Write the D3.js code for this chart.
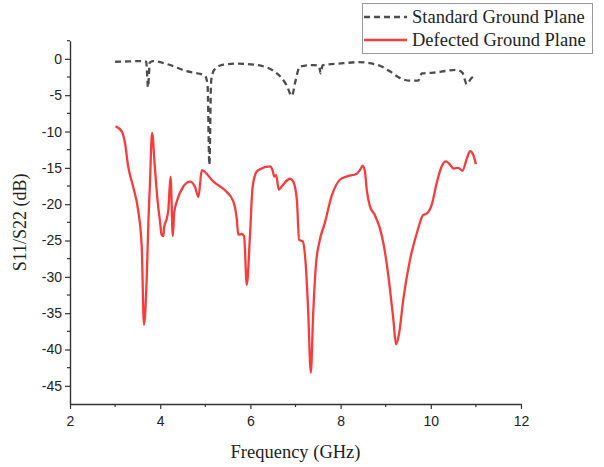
<!DOCTYPE html>
<html>
<head>
<meta charset="utf-8">
<script src="https://cdn.jsdelivr.net/npm/d3@7"></script>
<style>
  body { margin: 0; background: #fff; }
  svg { display: block; }
</style>
</head>
<body>
<main></main>
<script>
// data
let xTicks = [2, 4, 6, 8, 10, 12];
let yTicks = [0, -5, -10, -15, -20, -25, -30, -35, -40, -45];

let stdFreq = [3.0, 3.3, 3.62, 3.69, 3.73, 3.77, 3.84, 4.14, 4.59, 4.99, 5.05, 5.09, 5.13, 5.2, 5.4, 5.7, 6.14, 6.58, 6.8, 6.92, 6.99, 7.1, 7.4, 7.52, 7.56, 7.6, 7.69, 8.06, 8.39, 8.65, 8.87, 9.1, 9.32, 9.54, 9.72, 9.8, 10.06, 10.35, 10.57, 10.7, 10.8, 10.88, 11.0];
let stdS = [-0.4, -0.35, -0.3, -0.4, -3.9, -0.5, -0.3, -0.7, -1.7, -2.3, -3.5, -14.6, -3.0, -1.5, -0.8, -0.65, -0.85, -1.95, -3.6, -5.1, -3.3, -1.05, -0.85, -1.0, -2.0, -0.9, -0.8, -0.6, -0.45, -0.6, -0.95, -1.75, -2.65, -3.0, -3.0, -2.0, -1.9, -1.65, -1.5, -1.9, -3.5, -2.8, -2.2];

let dgsFreq = [3.01, 3.15, 3.22, 3.29, 3.4, 3.51, 3.59, 3.64, 3.7, 3.74, 3.77, 3.82, 3.88, 3.94, 4.0, 4.03, 4.07, 4.09, 4.14, 4.18, 4.23, 4.28, 4.31, 4.37, 4.51, 4.66, 4.77, 4.85, 4.92, 5.18, 5.47, 5.62, 5.7, 5.73, 5.81, 5.86, 5.92, 5.99, 6.05, 6.14, 6.21, 6.43, 6.49, 6.53, 6.57, 6.63, 6.69, 6.88, 6.95, 7.03, 7.08, 7.16, 7.23, 7.28, 7.34, 7.39, 7.45, 7.54, 7.65, 7.8, 7.99, 8.13, 8.36, 8.43, 8.49, 8.54, 8.58, 8.65, 8.76, 8.87, 8.95, 9.06, 9.17, 9.23, 9.3, 9.39, 9.54, 9.69, 9.83, 9.91, 10.02, 10.13, 10.24, 10.34, 10.43, 10.51, 10.61, 10.7, 10.8, 10.87, 10.94, 11.0];
let dgsS = [-9.3, -10.0, -11.6, -14.8, -17.6, -20.8, -25.8, -36.6, -30.4, -22.1, -17.6, -10.2, -14.8, -19.4, -22.6, -24.2, -24.4, -23.1, -22.1, -20.8, -16.2, -24.4, -21.2, -19.6, -17.6, -16.9, -17.6, -19.0, -15.3, -16.9, -18.3, -19.6, -22.1, -24.2, -24.1, -24.4, -31.1, -24.4, -17.6, -15.5, -15.2, -14.8, -15.3, -16.2, -16.0, -18.0, -17.6, -16.5, -16.9, -19.4, -24.9, -25.1, -28.6, -34.5, -43.2, -35.4, -28.6, -24.9, -22.6, -18.9, -16.6, -16.2, -15.8, -15.3, -14.7, -15.5, -18.0, -20.3, -21.5, -23.3, -25.4, -29.9, -35.9, -39.3, -37.7, -33.1, -27.6, -24.0, -21.5, -21.3, -20.1, -17.1, -14.8, -14.1, -14.6, -15.1, -15.0, -15.4, -13.7, -12.7, -13.2, -14.5];

let width = 604, height = 467;

let svg = d3.select('main')
    .append('svg')
    .attr('width', width)
    .attr('height', height);

let x = d3.scaleLinear().domain([2, 12]).range([70, 521]);
let y = d3.scaleLinear().domain([-47.5, 2.5]).range([404, 40.7]);

// minor ticks
let xMinor = d3.range(3, 12, 2);
let yMinor = d3.range(2.5, -47.5, -5);

svg.append('g')
    .selectAll('line')
    .data(xMinor)
    .join('line')
    .attr('x1', d => x(d)).attr('x2', d => x(d))
    .attr('y1', 404).attr('y2', 407)
    .attr('stroke', '#333').attr('stroke-width', 1.2);

svg.append('g')
    .selectAll('line')
    .data(yMinor)
    .join('line')
    .attr('x1', 67).attr('x2', 70)
    .attr('y1', d => y(d)).attr('y2', d => y(d))
    .attr('stroke', '#333').attr('stroke-width', 1.2);

// plain hyphen for negatives, like the original
let fmt = d => String(d);

// x axis
let xAxis = svg.append('g')
    .attr('transform', 'translate(0,404)')
    .call(d3.axisBottom(x).tickValues(xTicks).tickFormat(fmt).tickSize(5).tickSizeOuter(0).tickPadding(7));

// y axis
let yAxis = svg.append('g')
    .attr('transform', 'translate(70,0)')
    .call(d3.axisLeft(y).tickValues(yTicks).tickFormat(fmt).tickSize(5).tickSizeOuter(0).tickPadding(3));

[xAxis, yAxis].forEach(g => {
    g.select('.domain').attr('stroke', '#333').attr('stroke-width', 1.4);
    g.selectAll('.tick line').attr('stroke', '#333').attr('stroke-width', 1.2);
    g.selectAll('.tick text')
        .attr('fill', '#222')
        .style('font-family', 'Liberation Sans, Arial, sans-serif')
        .style('font-size', '14px');
});

// axis titles
svg.append('text')
    .attr('x', x(7))
    .attr('y', 458)
    .attr('text-anchor', 'middle')
    .style('font-family', 'Liberation Serif, Times New Roman, serif')
    .style('font-size', '18.5px')
    .attr('fill', '#222')
    .text('Frequency (GHz)');

svg.append('text')
    .attr('transform', 'translate(26,' + y(-22.5) + ') rotate(-90)')
    .attr('text-anchor', 'middle')
    .style('font-family', 'Liberation Serif, Times New Roman, serif')
    .style('font-size', '18px')
    .attr('fill', '#222')
    .text('S11/S22 (dB)');

// curves
let line = d3.line()
    .x(d => x(d[0]))
    .y(d => y(d[1]))
    .curve(d3.curveMonotoneX);

svg.append('path')
    .datum(d3.zip(dgsFreq, dgsS))
    .attr('d', line)
    .attr('fill', 'none')
    .attr('stroke', '#f63c3c')
    .attr('stroke-width', 2.3)
    .attr('stroke-linejoin', 'round');

svg.append('path')
    .datum(d3.zip(stdFreq, stdS))
    .attr('d', line)
    .attr('fill', 'none')
    .attr('stroke', '#4d4d4d')
    .attr('stroke-width', 2.3)
    .attr('stroke-dasharray', '6,4');

// legend
let legend = svg.append('g');

legend.append('rect')
    .attr('x', 362.5).attr('y', 3.5)
    .attr('width', 230).attr('height', 50)
    .attr('fill', '#fff')
    .attr('stroke', '#999')
    .attr('stroke-width', 1);

let legendItems = [
    {name: 'Standard Ground Plane', color: '#4d4d4d', dash: '6,4'},
    {name: 'Defected Ground Plane', color: '#f63c3c', dash: null}
];

legendItems.forEach((item, i) => {
    let ly = 17 + i * 23;
    legend.append('line')
        .attr('x1', 364).attr('x2', 407)
        .attr('y1', ly).attr('y2', ly)
        .attr('stroke', item.color)
        .attr('stroke-width', 2.3)
        .attr('stroke-dasharray', item.dash);
    legend.append('text')
        .attr('x', 412)
        .attr('y', ly + 6)
        .style('font-family', 'Liberation Serif, Times New Roman, serif')
        .style('font-size', '18.5px')
        .attr('fill', '#222')
        .text(item.name);
});
</script>
</body>
</html>
